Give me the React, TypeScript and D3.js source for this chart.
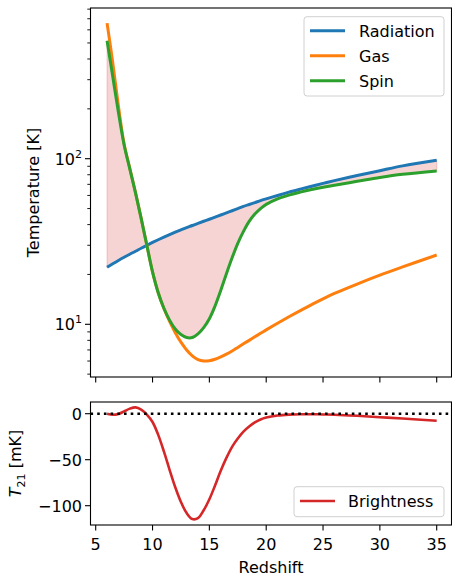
import React from "react";
import * as d3 from "d3";

const redshift = [6, 6.5, 7, 7.5, 8, 8.5, 9, 9.5, 10, 10.5, 11, 11.5, 12, 12.5, 13, 13.5, 14, 14.5, 15, 15.5, 16, 16.5, 17, 17.5, 18, 18.5, 19, 19.5, 20, 21, 22, 23, 24, 25, 26, 28, 30, 32, 35];
const radiationT = [22.1, 23.2, 24.3, 25.4, 26.5, 27.6, 28.8, 30.0, 31.2, 32.4, 33.6, 34.8, 36.0, 37.2, 38.4, 39.5, 40.7, 41.9, 43.1, 44.4, 45.7, 47.1, 48.5, 50.0, 51.5, 52.9, 54.3, 55.8, 57.2, 60.0, 62.8, 65.5, 68.2, 71.0, 73.7, 79.1, 84.6, 90.5, 97.8];
const gasT = [659, 380, 208, 123, 87.5, 62.4, 43.6, 30.0, 20.7, 15.5, 12.45, 10.4, 8.9, 7.8, 7.0, 6.45, 6.12, 6.0, 6.03, 6.15, 6.35, 6.6, 6.9, 7.25, 7.62, 8.0, 8.4, 8.82, 9.25, 10.15, 11.1, 12.1, 13.15, 14.25, 15.35, 17.5, 19.8, 22.2, 26.2];
const spinT = [516, 313, 190, 121, 86.8, 62.4, 43.6, 30.0, 20.7, 15.5, 12.5, 10.6, 9.37, 8.67, 8.32, 8.32, 8.75, 9.55, 10.8, 12.9, 16.0, 20.2, 25.2, 30.8, 36.4, 41.8, 46.3, 50.0, 53.0, 57.2, 60.3, 62.8, 65.1, 67.2, 69.2, 73, 77, 80.5, 84.4];
const brightnessT21 = [0, -1.2, -0.3, 2.5, 5.5, 6.9, 4.5, -1, -9, -23, -41, -61, -80, -96, -108, -114.5, -113.5, -105, -93, -78, -62, -48, -36, -27, -19.5, -14, -9.5, -6.3, -4.2, -2, -1, -0.6, -0.6, -0.8, -1.2, -2.3, -3.8, -5.3, -7.6];

const xTicks = [5, 10, 15, 20, 25, 30, 35];
const topMajorTicks = [10, 100];
const topMinorTicks = [5, 6, 7, 8, 9, 20, 30, 40, 50, 60, 70, 80, 90, 200, 300, 400, 500, 600, 700, 800];
const bottomTicks = [0, -50, -100];

const C = { blue: "#1f77b4", orange: "#ff7f0e", green: "#2ca02c", red: "#d62728" };
const FONT = "DejaVu Sans, sans-serif";

export default function App() {
  const W = 452, H = 577;
  const left = 90.5, right = 451.5;
  const topT = 8, topB = 377;
  const botT = 402, botB = 525;

  const x = d3.scaleLinear().domain([5, 35]).range([95.7, 436.7]);
  const yT = d3.scaleLog().domain([10, 100]).range([324.3, 158.7]);
  const yB = d3.scaleLinear().domain([0, -100]).range([413.7, 505.7]);

  const idx = redshift.map((_, i) => i);
  const curve = d3.curveCatmullRom.alpha(0.5);
  const lineTop = (vals: number[]) =>
    d3.line<number>().x(i => x(redshift[i])).y(i => yT(vals[i])).curve(curve)(idx) || "";
  const fillPath = d3.area<number>()
    .x(i => x(redshift[i]))
    .y0(i => yT(radiationT[i]))
    .y1(i => yT(spinT[i]))
    .curve(curve)(idx) || "";
  const lineBot = d3.line<number>().x(i => x(redshift[i])).y(i => yB(brightnessT21[i])).curve(curve)(idx) || "";

  const tickLen = 5.5, minorLen = 3.2;

  return (
    <svg width={W} height={H} style={{ position: "absolute", left: 0, top: 0 }} fontFamily={FONT}>
      <rect x={0} y={0} width={W} height={H} fill="white" />
      <defs>
        <clipPath id="clipTop"><rect x={left} y={topT} width={right - left} height={topB - topT} /></clipPath>
        <clipPath id="clipBot"><rect x={left} y={botT} width={right - left} height={botB - botT} /></clipPath>
      </defs>

      {/* Top panel */}
      <g clipPath="url(#clipTop)">
        <path d={fillPath} fill="rgba(214,39,40,0.2)" stroke="rgba(214,39,40,0.2)" strokeWidth={1.2} />
        <path d={lineTop(radiationT)} fill="none" stroke={C.blue} strokeWidth={3} />
        <path d={lineTop(gasT)} fill="none" stroke={C.orange} strokeWidth={3} />
        <path d={lineTop(spinT)} fill="none" stroke={C.green} strokeWidth={3} />
      </g>
      <rect x={left} y={topT} width={right - left} height={topB - topT} fill="none" stroke="black" strokeWidth={1.1} />
      {xTicks.map(t => (
        <line key={"xt" + t} x1={x(t)} x2={x(t)} y1={topB} y2={topB + tickLen} stroke="black" strokeWidth={1.1} />
      ))}
      {topMinorTicks.map(t => (
        <line key={"mn" + t} x1={left - minorLen} x2={left} y1={yT(t)} y2={yT(t)} stroke="black" strokeWidth={0.9} />
      ))}
      {topMajorTicks.map(t => (
        <g key={"mj" + t}>
          <line x1={left - tickLen} x2={left} y1={yT(t)} y2={yT(t)} stroke="black" strokeWidth={1.1} />
          <text x={left - tickLen - 3} y={yT(t) + 5.8} fontSize={16} textAnchor="end">
            10<tspan fontSize={11} dy={-7}>{t === 10 ? "1" : "2"}</tspan>
          </text>
        </g>
      ))}
      <text transform={`translate(38.5,${(topT + topB) / 2}) rotate(-90)`} fontSize={16} textAnchor="middle">Temperature [K]</text>

      {/* Top legend */}
      <rect x={304} y={16.7} width={140} height={79.3} rx={3} fill="rgba(255,255,255,0.8)" stroke="#d0d0d0" strokeWidth={1} />
      {[["Radiation", C.blue], ["Gas", C.orange], ["Spin", C.green]].map(([name, col], i) => (
        <g key={name}>
          <line x1={310} x2={345} y1={30.7 + i * 25} y2={30.7 + i * 25} stroke={col} strokeWidth={3} />
          <text x={359} y={36.5 + i * 25} fontSize={16}>{name}</text>
        </g>
      ))}

      {/* Bottom panel */}
      <g clipPath="url(#clipBot)">
        <path d={lineBot} fill="none" stroke={C.red} strokeWidth={2.6} />
        <line x1={left} x2={right} y1={yB(0)} y2={yB(0)} stroke="black" strokeWidth={2.6} strokeDasharray="2.6,4.1" />
      </g>
      <rect x={left} y={botT} width={right - left} height={botB - botT} fill="none" stroke="black" strokeWidth={1.1} />
      {xTicks.map(t => (
        <g key={"bx" + t}>
          <line x1={x(t)} x2={x(t)} y1={botB} y2={botB + tickLen} stroke="black" strokeWidth={1.1} />
          <text x={x(t)} y={550} fontSize={16} textAnchor="middle">{t}</text>
        </g>
      ))}
      {bottomTicks.map(t => (
        <g key={"by" + t}>
          <line x1={left - tickLen} x2={left} y1={yB(t)} y2={yB(t)} stroke="black" strokeWidth={1.1} />
          <text x={left - tickLen - 3} y={yB(t) + 5.8} fontSize={16} textAnchor="end">{t < 0 ? "\u2212" + Math.abs(t) : String(t)}</text>
        </g>
      ))}
      <text x={(left + right) / 2} y={573} fontSize={16} textAnchor="middle">Redshift</text>
      <text transform={`translate(20.5,${(botT + botB) / 2}) rotate(-90)`} fontSize={16} textAnchor="middle">
        <tspan fontStyle="italic">T</tspan><tspan fontSize={11} dy={4}>21</tspan><tspan dy={-4}> [mK]</tspan>
      </text>

      {/* Bottom legend */}
      <rect x={294} y={486.7} width={150} height={30} rx={3} fill="rgba(255,255,255,0.8)" stroke="#d0d0d0" strokeWidth={1} />
      <line x1={300} x2={335} y1={501} y2={501} stroke={C.red} strokeWidth={2.6} />
      <text x={348} y={506.8} fontSize={16}>Brightness</text>
    </svg>
  );
}
